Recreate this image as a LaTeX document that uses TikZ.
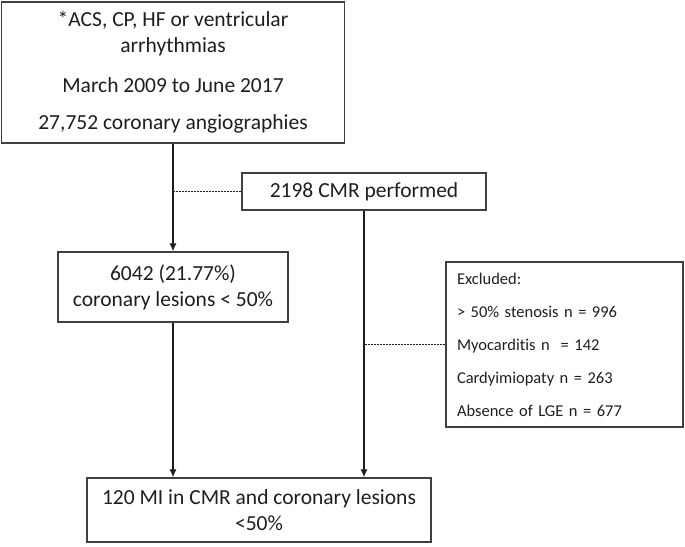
\documentclass[tikz,border=0pt]{standalone}
\usepackage{fontspec}
\setmainfont{Carlito}[Ligatures=NoCommon]
\usetikzlibrary{arrows.meta}
\definecolor{ink}{HTML}{1E1E1E}
\definecolor{frame}{HTML}{404040}

\begin{document}
\begin{tikzpicture}[x=1pt,y=-1pt,>={Latex[length=8pt,width=7pt]},
  box/.style={draw=frame,line width=1.3pt,inner sep=0pt,align=center,
    font=\fontsize{21.5}{26}\selectfont,text=ink},
  link/.style={ink,line width=1.2pt},
  side/.style={ink,line width=1.1pt,dash pattern=on 2pt off 1pt}]
  \useasboundingbox (0,0) rectangle (685,546);
  \node[box,minimum width=343pt,minimum height=141pt] (search) at (173,72.5)
    {*ACS, CP, HF or ventricular\\arrhythmias\\[14pt]March 2009 to June 2017\\[11pt]27,752 coronary angiographies};
  \node[box,minimum width=244pt,minimum height=37pt] (cmr) at (364,191.5) {2198 CMR performed};
  \node[box,minimum width=230pt,minimum height=70pt] (lesions) at (173,287)
    {6042 (21.77\%)\\coronary lesions < 50\%};
  \node[box,align=left,font=\fontsize{16.5}{33}\selectfont,text width=215pt,inner xsep=11pt,
    minimum width=237pt,minimum height=165pt] (excluded) at (564.5,344.5)
    {Excluded:\\> 50\% stenosis n = 996\\Myocarditis n\ \ = 142\\Cardyimiopaty n = 263\\Absence of LGE n = 677};
  \node[box,minimum width=344pt,minimum height=64pt] (mi) at (259,510)
    {120 MI in CMR and coronary lesions\\<50\%};
  \draw[link,->] (search) -- (lesions);
  \draw[link,->] (lesions) -- (lesions.south |- mi.north);
  \draw[link,->] (cmr.south) -- (cmr.south |- mi.north);
  \draw[side] (cmr.west) -- (cmr.west -| search.south);
  \draw[side] (excluded.west) -- (excluded.west -| cmr.south);
\end{tikzpicture}
\end{document}
